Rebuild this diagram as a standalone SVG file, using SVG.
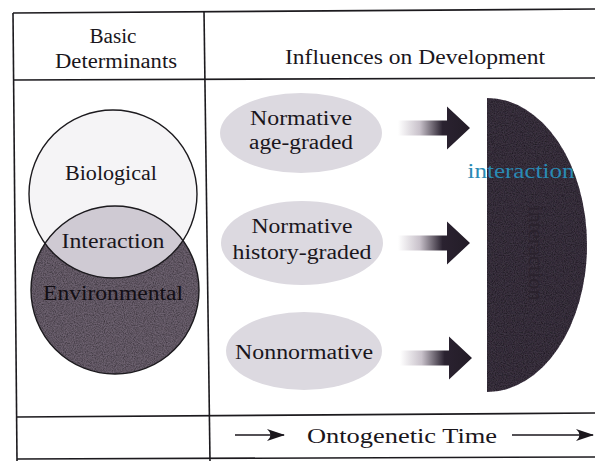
<svg xmlns="http://www.w3.org/2000/svg" xmlns:xlink="http://www.w3.org/1999/xlink" width="595" height="461" viewBox="0 0 595 461">
<style>
.t{font-family:"Liberation Serif","Times New Roman",serif;font-size:20px;fill:#1a161c;text-anchor:middle}
.rule{stroke:#1c1a1e;stroke-width:1.6;fill:none}
.oval{fill:#dcd9e0}
</style>
<defs>
<linearGradient id="ag" x1="0" y1="0" x2="1" y2="0">
<stop offset="0" stop-color="#ffffff"/>
<stop offset="0.3" stop-color="#c9c2cb"/>
<stop offset="0.62" stop-color="#2a2230"/>
<stop offset="1" stop-color="#231c27"/>
</linearGradient>
<path id="fat" d="M0,-7.5 L49,-7.5 L49,-21.5 L72,0 L49,21.5 L49,7.5 L0,7.5 Z" fill="url(#ag)"/>
<clipPath id="topc"><circle cx="113" cy="194" r="84"/></clipPath>
<marker id="ah" viewBox="0 0 18 12" refX="17" refY="6" markerWidth="18" markerHeight="12" markerUnits="userSpaceOnUse" orient="auto">
<path d="M0,0 Q7,6 0,12 L18,6 Z" fill="#1a161c"/>
</marker>
<filter id="grain" x="0" y="0" width="100%" height="100%">
<feTurbulence type="fractalNoise" baseFrequency="0.9" numOctaves="2" seed="3" result="n"/>
<feColorMatrix in="n" type="matrix" values="0 0 0 0 0  0 0 0 0 0  0 0 0 0 0  0 0 0 1.2 -0.35" result="d"/>
<feComposite in="d" in2="SourceGraphic" operator="in" result="dm"/>
<feMerge><feMergeNode in="SourceGraphic"/><feMergeNode in="dm"/></feMerge>
</filter>
</defs>

<g id="table">
<line class="rule" x1="13" y1="13" x2="595" y2="9"/>
<line class="rule" x1="13" y1="80" x2="595" y2="78"/>
<line class="rule" x1="17" y1="417" x2="595" y2="413"/>
<line class="rule" x1="17" y1="459" x2="595" y2="457"/>
<line class="rule" x1="13" y1="13" x2="17" y2="461"/>
<line class="rule" x1="204" y1="11" x2="210" y2="461"/>
</g>

<g id="header-basic">
<text class="t" x="113" y="43" textLength="47" lengthAdjust="spacingAndGlyphs">Basic</text>
<text class="t" x="116" y="68" textLength="122" lengthAdjust="spacingAndGlyphs">Determinants</text>
</g>
<g id="header-influences">
<text class="t" x="415" y="64" textLength="260" lengthAdjust="spacingAndGlyphs">Influences on Development</text>
</g>

<g id="venn">
<circle cx="113" cy="194" r="84" fill="#f5f4f6"/>
<circle cx="115" cy="290" r="84" fill="#6d6270" filter="url(#grain)"/>
<circle cx="115" cy="290" r="84" fill="#cfcad3" clip-path="url(#topc)"/>
<circle cx="113" cy="194" r="84" fill="none" stroke="#1c1a1e" stroke-width="1.4"/>
<circle cx="115" cy="290" r="84" fill="none" stroke="#1c1a1e" stroke-width="1.4"/>
</g>
<g id="node-biological"><text class="t" x="111" y="180" textLength="92" lengthAdjust="spacingAndGlyphs">Biological</text></g>
<g id="node-interaction"><text class="t" x="113" y="248" textLength="103" lengthAdjust="spacingAndGlyphs">Interaction</text></g>
<g id="node-environmental"><text class="t" x="113" y="300" textLength="140" lengthAdjust="spacingAndGlyphs" style="fill:#120e14">Environmental</text></g>

<g id="node-age-graded">
<ellipse class="oval" cx="301" cy="133" rx="81" ry="40"/>
<text class="t" x="301" y="125" textLength="102" lengthAdjust="spacingAndGlyphs">Normative</text>
<text class="t" x="301" y="149" textLength="104" lengthAdjust="spacingAndGlyphs">age-graded</text>
</g>
<g id="node-history-graded">
<ellipse class="oval" cx="302" cy="243" rx="81" ry="42"/>
<text class="t" x="302" y="233" textLength="101" lengthAdjust="spacingAndGlyphs">Normative</text>
<text class="t" x="302" y="259" textLength="139" lengthAdjust="spacingAndGlyphs">history-graded</text>
</g>
<g id="node-nonnormative">
<ellipse class="oval" cx="304" cy="351" rx="78" ry="39"/>
<text class="t" x="304" y="359" textLength="138" lengthAdjust="spacingAndGlyphs">Nonnormative</text>
</g>

<g id="node-interaction-result">
<path d="M487,98 A100,147 0 0 1 487,392 Z" fill="#3e3443" filter="url(#grain)"/>
<text class="t" transform="translate(529,253) rotate(90)" x="0" y="0" textLength="95" lengthAdjust="spacingAndGlyphs" style="fill:#2a222d">interaction</text>
<text class="t" x="521" y="178" textLength="107" lengthAdjust="spacingAndGlyphs" style="fill:#2a8ab4">interaction</text>
</g>

<g id="connectors">
<use xlink:href="#fat" x="398" y="128"/>
<use xlink:href="#fat" x="398" y="243"/>
<use xlink:href="#fat" x="400" y="358"/>
<line x1="235" y1="435" x2="284" y2="435" stroke="#1a161c" stroke-width="1.6" marker-end="url(#ah)"/>
<line x1="512" y1="435" x2="593" y2="435" stroke="#1a161c" stroke-width="1.6" marker-end="url(#ah)"/>
</g>
<g id="footer">
<text class="t" x="402" y="443" textLength="190" lengthAdjust="spacingAndGlyphs">Ontogenetic Time</text>
</g>
</svg>
